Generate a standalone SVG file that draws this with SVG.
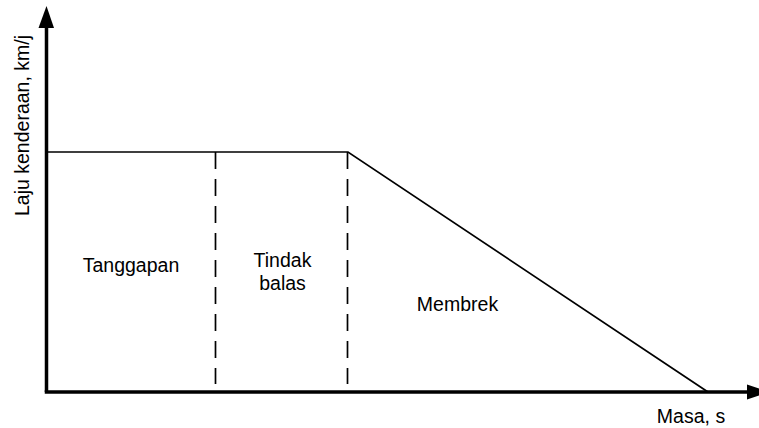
<svg xmlns="http://www.w3.org/2000/svg" width="759" height="428" viewBox="0 0 759 428">
<style>
.axis{stroke:#000;stroke-width:3.5;fill:none}
.thin{stroke:#000;stroke-width:1.7;fill:none}
.dash{stroke:#000;stroke-width:1.7;fill:none;stroke-dasharray:17 10}
text{font-family:"Liberation Sans",Arial,sans-serif;font-size:19.5px;fill:#000}
</style>
<rect width="759" height="428" fill="#fff"/>
<g id="axes">
<line class="axis" x1="46.5" y1="26" x2="46.5" y2="392"/>
<line class="axis" x1="44.75" y1="392" x2="749" y2="392"/>
<polygon points="46.5,6 38.5,28 54,28" fill="#000"/>
<polygon points="769,392 747,384.5 747,399.5" fill="#000"/>
<text x="28.5" y="125.5" text-anchor="middle" transform="rotate(-90 28.5 125.5)">Laju kenderaan, km/j</text>
<text x="691" y="423" text-anchor="middle">Masa, s</text>
</g>
<g id="connectors">
<polyline class="thin" points="46.5,152 348,152 708,392"/>
<line class="dash" x1="215.5" y1="152" x2="215.5" y2="384"/>
<line class="dash" x1="347.5" y1="152" x2="347.5" y2="384"/>
</g>
<g id="tanggapan"><text x="131" y="272" text-anchor="middle">Tanggapan</text></g>
<g id="tindak-balas"><text x="282.5" y="267" text-anchor="middle">Tindak</text><text x="282.5" y="290" text-anchor="middle">balas</text></g>
<g id="membrek"><text x="457.5" y="311" text-anchor="middle">Membrek</text></g>
</svg>
